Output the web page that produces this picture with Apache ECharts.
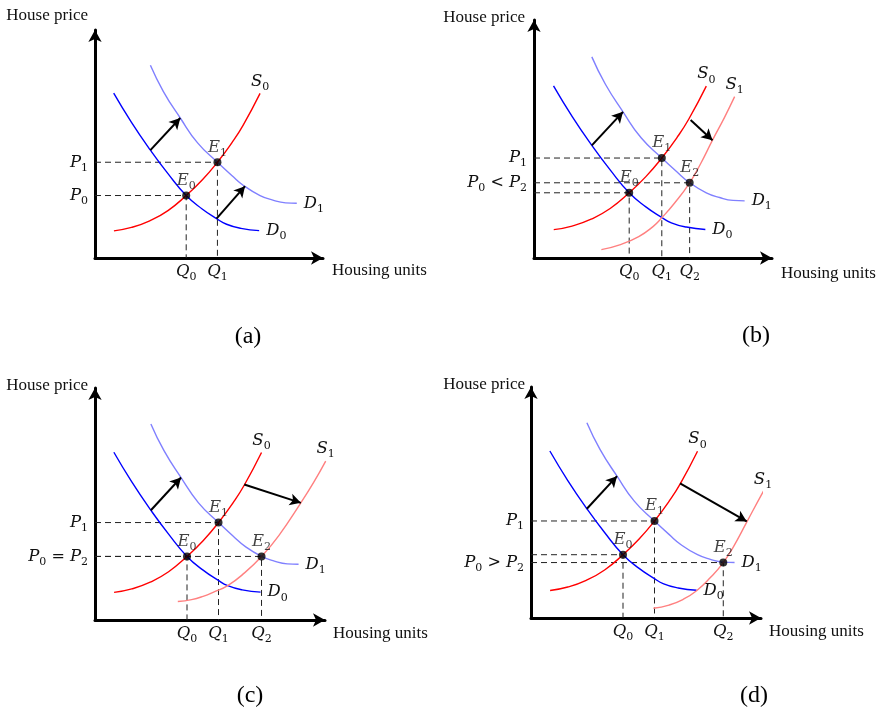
<!DOCTYPE html>
<html><head><meta charset="utf-8">
<script src="https://cdn.jsdelivr.net/npm/echarts@6/dist/echarts.min.js"></script>
<style>html,body{margin:0;padding:0;background:#fff}#c{width:887px;height:710px}</style>
</head><body><div id="c"></div>
<script>
// ---- Data (units: 0..100 = full length of each panel's axis) ----
const CAPTIONS = ['(a)', '(b)', '(c)', '(d)'];
const Y_NAME = 'House price';
const X_NAME = 'Housing units';

// shared curves
const D0 = [[8.2,72.3],[16,59.5],[24.3,47.3],[32,37],[40,27.4],[47,21.5],[53.3,17.3],[57.7,14.8],[64,13],[72,12]];
const D1 = [[24.3,84.5],[30,73],[37.4,61.4],[45,50.5],[53.7,42],[60,36.2],[65.4,31.6],[72.4,27.4],[78,25.4],[83.6,24.2],[88.5,24]];
const S0 = [[8.3,11.9],[16,13.4],[24,16.3],[32,20.8],[40,27.4],[47,34.2],[53.7,42],[60,50.5],[65,58.3],[72.4,72.2]];
// new supply curves
const S1_B = [[28.3,3.5],[36,5.5],[44,9],[50,13.2],[53.5,16.7],[59,23],[65.4,31.6],[70,39.6],[75,49.5],[80,59],[84.3,67.8]];
const S1_C = [[36,8],[42,8.8],[47,10.2],[52,12.2],[57.7,14.8],[65,20.3],[72.4,27.4],[80,36.5],[89.5,50.5],[95,59.2],[100.3,68.5]];
const S1_D = [[53.2,4.2],[60,5.6],[66,8],[72,11.8],[78,17.5],[83.6,24],[88,30.8],[93.8,41.5],[100,53],[108.3,67.8]];

// equilibria [label, quantity, price]
const EQ_A = [['E0',40,27.4],['E1',53.7,42]];
const EQ_B = [['E0',40,27.4],['E1',53.7,42],['E2',65.4,31.6]];
const EQ_C = [['E0',40,27.4],['E1',53.7,42],['E2',72.4,27.4]];
const EQ_D = [['E0',40,27.4],['E1',53.7,42],['E2',83.6,24]];

// tick labels [value, text]
const PRICE_A = [[27.4,'P0'],[42,'P1']];
const PRICE_B = [[31.6,'P0 < P2'],[42,'P1']];
const PRICE_C = [[27.4,'P0 = P2'],[42,'P1']];
const PRICE_D = [[24,'P0 > P2'],[42,'P1']];
const QTY_A = [[40,'Q0'],[53.7,'Q1']];
const QTY_B = [[40,'Q0'],[53.7,'Q1'],[65.4,'Q2']];
const QTY_C = [[40,'Q0'],[53.7,'Q1'],[72.4,'Q2']];
const QTY_D = [[40,'Q0'],[53.7,'Q1'],[83.6,'Q2']];

// shift arrows [[from],[to]]
const SHIFT_A = [[[24.3,47.3],[37.4,61.4]],[[53.3,17.3],[65.8,31.5]]];
const SHIFT_B = [[[24.3,47.3],[37.4,61.4]],[[65.8,58],[75,49.5]]];
const SHIFT_C = [[[24.3,47.3],[37.4,61.4]],[[64.9,58.4],[89.5,50.5]]];
const SHIFT_D = [[[24.3,47.3],[37.4,61.4]],[[64.8,58.3],[93.8,41.8]]];

// ---- Build ----
const PANELS = [
  {s1: null, eq: EQ_A, price: PRICE_A, qty: QTY_A, shift: SHIFT_A},
  {s1: S1_B, eq: EQ_B, price: PRICE_B, qty: QTY_B, shift: SHIFT_B},
  {s1: S1_C, eq: EQ_C, price: PRICE_C, qty: QTY_C, shift: SHIFT_C},
  {s1: S1_D, eq: EQ_D, price: PRICE_D, qty: QTY_D, shift: SHIFT_D}
];
const LAYOUT = [
  {grid:{left:95,top:30,width:228,height:228}, yGap:14, yPad:7, xGap:9, xPad:4, cap:[248,337]},
  {grid:{left:534,top:20,width:238,height:238}, yGap:2, yPad:9, xGap:9, xPad:7, cap:[756,336]},
  {grid:{left:95,top:388,width:230,height:232}, yGap:2, yPad:7, xGap:8, xPad:5, cap:[250,696]},
  {grid:{left:531,top:387,width:230,height:231}, yGap:2, yPad:6, xGap:8, xPad:5, cap:[754,696]}
];

const INK = '#111';
const MATH = 'DejaVu Serif';
const TEXTF = 'Liberation Serif';
const RICH = {
  i: {fontFamily: MATH, fontStyle: 'italic', fontSize: 16.5, lineHeight: 22, verticalAlign: 'middle', color: INK},
  s: {fontFamily: MATH, fontSize: 11, lineHeight: 11, verticalAlign: 'bottom', color: INK},
  t: {fontFamily: MATH, fontSize: 16, lineHeight: 22, verticalAlign: 'middle', color: INK}
};
function tex(str) {
  return str.split(' ').map(function (tok) {
    const m = /^([A-Za-z])(\d)$/.exec(tok);
    return m ? '{i|' + m[1] + '}{s|' + m[2] + '}' : '{t| ' + tok + ' }';
  }).join('');
}
function lookup(list, v) {
  for (const t of list) if (Math.abs(t[0] - v) < 1e-6) return tex(t[1]);
  return '';
}

const COLORS = {D0: '#0000ff', D1: '#8080ff', S0: '#ff0000', S1: '#ff8080'};
const grids = [], xAxes = [], yAxes = [], series = [], graphics = [];

function curve(i, name, data) {
  const isD = name[0] === 'D';
  return {
    type: 'line', name: name, xAxisIndex: i, yAxisIndex: i, data: data,
    smooth: true, symbol: 'none', showSymbol: false, clip: false, silent: true, z: 3,
    lineStyle: {color: COLORS[name], width: 1.4},
    endLabel: Object.assign({
      show: true, rich: RICH, formatter: function () { return tex(name); }
    }, isD ? {distance: 7, align: 'left', verticalAlign: 'middle'}
           : {distance: 0, align: 'center', verticalAlign: 'bottom', padding: [0, 0, 1, 0]})
  };
}

PANELS.forEach(function (p, i) {
  const L = LAYOUT[i];
  grids.push(Object.assign({containLabel: false, outerBoundsMode: 'none'}, L.grid));
  const axisLine = {show: true, onZero: false, symbol: ['none', 'arrow'], symbolSize: [10, 12],
    symbolOffset: [0, 0], lineStyle: {color: '#000', width: 3}};
  xAxes.push({
    type: 'value', gridIndex: i, min: 0, max: 100,
    axisLine: axisLine, axisTick: {show: false}, splitLine: {show: false},
    axisLabel: {show: true, margin: 3, rich: RICH, customValues: p.qty.map(t => t[0]),
      formatter: function (v) { return lookup(p.qty, v); }},
    name: X_NAME, nameLocation: 'end', nameGap: L.xGap,
    nameTextStyle: {fontFamily: TEXTF, fontSize: 17, color: INK, align: 'left', verticalAlign: 'top', padding: [L.xPad, 0, 0, 0]}
  });
  yAxes.push({
    type: 'value', gridIndex: i, min: 0, max: 100,
    axisLine: axisLine, axisTick: {show: false}, splitLine: {show: false},
    axisLabel: {show: true, margin: 7, rich: RICH, customValues: p.price.map(t => t[0]),
      formatter: function (v) { return lookup(p.price, v); }},
    name: Y_NAME, nameLocation: 'end', nameGap: L.yGap,
    nameTextStyle: {fontFamily: TEXTF, fontSize: 17, color: INK, align: 'right', verticalAlign: 'middle', padding: [0, L.yPad, 0, 0]}
  });
  // dashed guides from the equilibria
  p.eq.forEach(function (e) {
    series.push({
      type: 'line', xAxisIndex: i, yAxisIndex: i, data: [[0, e[2]], [e[1], e[2]], [e[1], 0]],
      symbol: 'none', showSymbol: false, silent: true, z: 1, clip: false,
      lineStyle: {color: '#222', width: 1, type: [6, 4]}
    });
  });
  series.push(curve(i, 'D0', D0));
  series.push(curve(i, 'D1', D1));
  series.push(curve(i, 'S0', S0));
  if (p.s1) series.push(curve(i, 'S1', p.s1));
  series.push({
    type: 'scatter', xAxisIndex: i, yAxisIndex: i, silent: true, z: 5,
    data: p.eq.map(e => ({name: e[0], value: [e[1], e[2]]})),
    symbolSize: 8, itemStyle: {color: '#000'},
    label: {show: true, position: 'top', distance: 0, rich: RICH, formatter: q => tex(q.name)},
    markLine: {
      silent: true, symbol: ['none', 'arrow'], symbolSize: [9, 11],
      lineStyle: {color: '#000', width: 2, type: 'solid'}, label: {show: false},
      emphasis: {disabled: true}, animation: false,
      data: p.shift.map(s => [{coord: s[0]}, {coord: s[1]}])
    }
  });
  graphics.push({type: 'text', x: L.cap[0], y: L.cap[1], silent: true,
    style: {text: CAPTIONS[i], fontFamily: TEXTF, fontSize: 24, fill: '#000', align: 'center', verticalAlign: 'middle'}});
});

const chart = echarts.init(document.getElementById('c'));
chart.setOption({
  backgroundColor: '#fff', animation: false,
  grid: grids, xAxis: xAxes, yAxis: yAxes, series: series, graphic: graphics
});
</script></body></html>
